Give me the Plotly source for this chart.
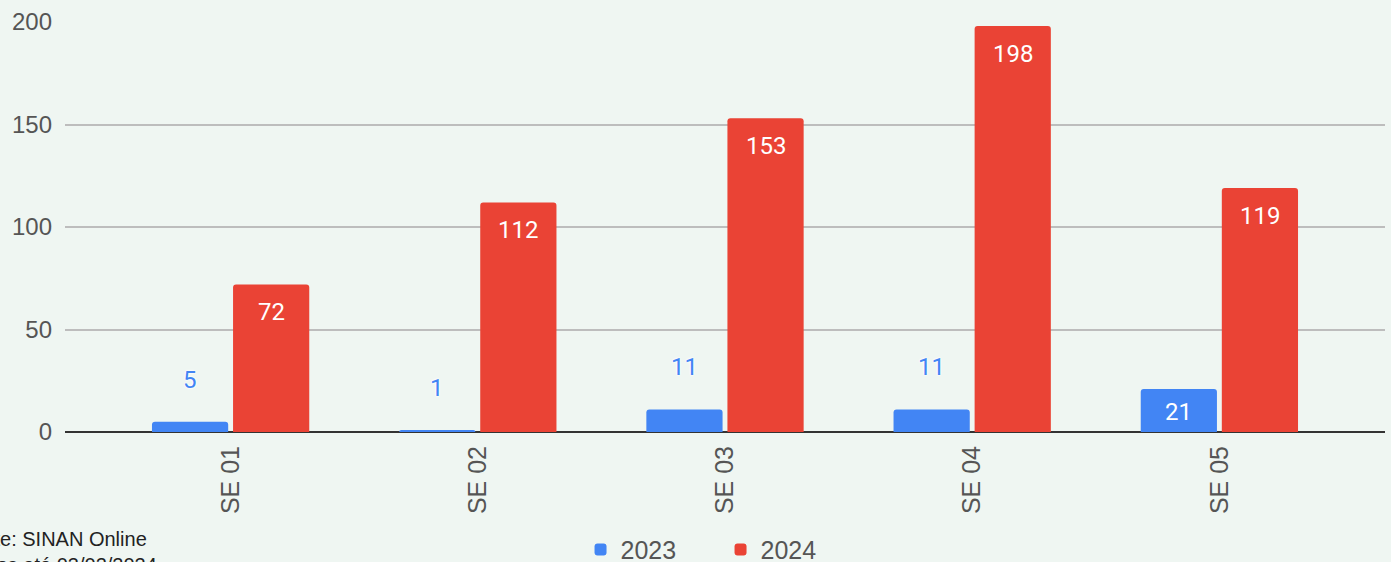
import plotly.graph_objects as go

categories = ["SE 01", "SE 02", "SE 03", "SE 04", "SE 05"]
values_2023 = [5, 1, 11, 11, 21]
values_2024 = [72, 112, 153, 198, 119]
y_ticks = [0, 50, 100, 150, 200]

BLUE = "#4285F4"
RED = "#EA4335"
BG = "#EFF6F2"
BARGAP = 0.344
GROUPGAP = 0.06
slot = (1 - BARGAP) / 2
offset = slot / 2

fig = go.Figure()
fig.add_trace(go.Bar(
    x=categories, y=values_2023, name="2023",
    marker=dict(color=BLUE, line=dict(width=0)),
))
fig.add_trace(go.Bar(
    x=categories, y=values_2024, name="2024",
    marker=dict(color=RED, line=dict(width=0)),
))

annotations = []
for i, v in enumerate(values_2023):
    inside = v >= 15
    annotations.append(dict(
        x=i - offset, y=v, xref="x", yref="y", text=str(v), showarrow=False,
        yanchor="middle", xanchor="center", yshift=-23 if inside else 42,
        font=dict(family="Roboto", size=24, color="white" if inside else BLUE,
                  shadow="none" if inside else "0 0 2px white, 0 0 2px white, 0 0 3px white"),
    ))
for i, v in enumerate(values_2024):
    annotations.append(dict(
        x=i + offset, y=v, xref="x", yref="y", text=str(v), showarrow=False,
        yanchor="middle", xanchor="center", yshift=-28,
        font=dict(family="Roboto", size=24, color="white"),
    ))
annotations.append(dict(
    text="Fonte: SINAN Online<br>Dados até 03/02/2024",
    xref="paper", yref="paper", x=-0.081, y=-0.229, xanchor="left", yanchor="top",
    showarrow=False, align="left",
    font=dict(family="Arial, Liberation Sans", size=20, color="#222222"),
))

fig.update_layout(
    width=1391, height=562,
    paper_bgcolor=BG, plot_bgcolor=BG,
    margin=dict(l=65, r=6, t=22, b=130, autoexpand=False),
    barmode="group", bargap=BARGAP, bargroupgap=GROUPGAP,
    barcornerradius=3,
    font=dict(family="Arial, Liberation Sans", size=24, color="#555555"),
    showlegend=True,
    legend=dict(orientation="h", xref="container", yref="container",
                x=0.518, xanchor="center", y=0.022, yanchor="middle",
                font=dict(size=25, color="#555555"),
                entrywidth=95, entrywidthmode="pixels",
                bgcolor="rgba(0,0,0,0)"),
    annotations=annotations,
)
fig.update_xaxes(
    range=[-0.67, 4.67], tickangle=-90, showgrid=False, ticks="",
    tickfont=dict(size=25, color="#555555"), showline=False, automargin=False,
    ticklabelstandoff=8,
)
fig.update_yaxes(
    range=[0, 200], tickvals=y_ticks, showgrid=True, gridcolor="#BDBDBD", gridwidth=2,
    zeroline=True, zerolinecolor="#333333", zerolinewidth=2,
    tickfont=dict(size=24, color="#555555"), ticks="", ticklabelstandoff=12,
    automargin=False,
)

fig.write_html("out.html", config={"displayModeBar": False},
               post_script="document.body.style.margin='0';")
